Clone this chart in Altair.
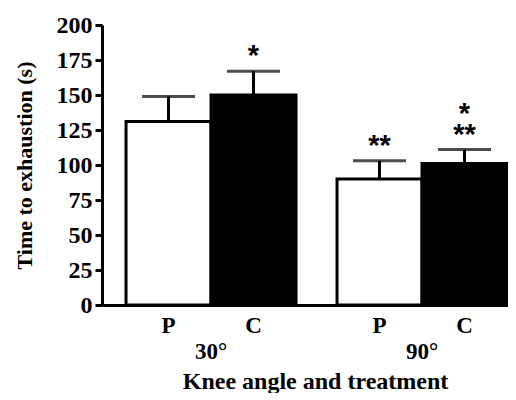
import altair as alt
import pandas as pd

angles = ["30°", "30°", "90°", "90°"]
treatments = ["P", "C", "P", "C"]
means = [131, 150, 90, 101]
sems = [18, 17, 13, 10]
stars_lower = ["", "*", "**", "**"]
stars_upper = ["", "", "", "*"]
y_ticks = [0, 25, 50, 75, 100, 125, 150, 175, 200]

df = pd.DataFrame({
    "angle": angles,
    "treatment": treatments,
    "mean": means,
    "sem": sems,
    "star_lower": stars_lower,
    "star_upper": stars_upper,
})
df["upper"] = df["mean"] + df["sem"]

SERIF = "Liberation Serif"
W, H = 406, 280

x_enc = alt.X(
    "angle:N",
    sort=["30°", "90°"],
    scale=alt.Scale(paddingInner=0.1943, paddingOuter=0.0593, align=0.96),
    axis=alt.Axis(
        title="Knee angle and treatment",
        titleX=213,
        labelAngle=0,
        ticks=False,
        labelPadding=35,
        labelFont=SERIF,
        labelFontWeight="bold",
        labelFontSize=23,
        labelColor="black",
        titleFont=SERIF,
        titleFontWeight="bold",
        titleFontSize=24,
        titleColor="black",
        titlePadding=6,
        domainColor="black",
        domainWidth=3,
    ),
)
xo_enc = alt.XOffset(
    "treatment:N",
    sort=["P", "C"],
    scale=alt.Scale(paddingInner=0, paddingOuter=0),
)

y_scale = alt.Scale(domain=[0, 200], nice=False)
y_axis = alt.Axis(
    values=y_ticks,
    labelOverlap=False,
    title="Time to exhaustion (s)",
    grid=False,
    tickSize=7,
    tickWidth=3,
    tickColor="black",
    domainColor="black",
    domainWidth=3,
    labelFont=SERIF,
    labelFontWeight="bold",
    labelFontSize=24,
    labelColor="black",
    labelPadding=3,
    titleFont=SERIF,
    titleFontWeight="bold",
    titleFontSize=22,
    titleColor="black",
    titlePadding=20,
)


def yq(field):
    return alt.Y(field, type="quantitative", scale=y_scale, axis=y_axis)


bars = alt.Chart(df).mark_bar(stroke="black", strokeWidth=3).encode(
    x=x_enc,
    xOffset=xo_enc,
    y=yq("mean"),
    fill=alt.Fill(
        "treatment:N",
        scale=alt.Scale(domain=["P", "C"], range=["white", "black"]),
        legend=None,
    ),
)

err_line = alt.Chart(df).mark_rule(color="black", strokeWidth=3).encode(
    x=x_enc, xOffset=xo_enc,
    y=yq("mean"), y2="upper:Q",
)

err_cap = alt.Chart(df).mark_tick(color="black", size=53, thickness=3).encode(
    x=x_enc, xOffset=xo_enc,
    y=yq("upper"),
)

star_low = alt.Chart(df).mark_text(
    font="Liberation Sans", fontWeight="bold", fontSize=29,
    baseline="alphabetic", dy=-6, color="black",
).encode(
    x=x_enc, xOffset=xo_enc,
    y=yq("upper"),
    text="star_lower:N",
)

star_up = alt.Chart(df).mark_text(
    font="Liberation Sans", fontWeight="bold", fontSize=29,
    baseline="alphabetic", dy=-27, color="black",
).encode(
    x=x_enc, xOffset=xo_enc,
    y=yq("upper"),
    text="star_upper:N",
)

treat_text = alt.Chart(df).mark_text(
    font=SERIF, fontWeight="bold", fontSize=23, baseline="middle", color="black",
).encode(
    x=x_enc, xOffset=xo_enc,
    y=alt.value(H + 21),
    text="treatment:N",
)

chart = alt.layer(bars, err_line, err_cap, star_low, star_up, treat_text).properties(
    width=W,
    height=H,
    autosize=alt.AutoSizeParams(type="none"),
    padding={"left": 94, "top": 17, "right": 0, "bottom": 88},
).configure_view(stroke=None)

chart.save("out.html", embed_options={"renderer": "svg", "actions": False})
